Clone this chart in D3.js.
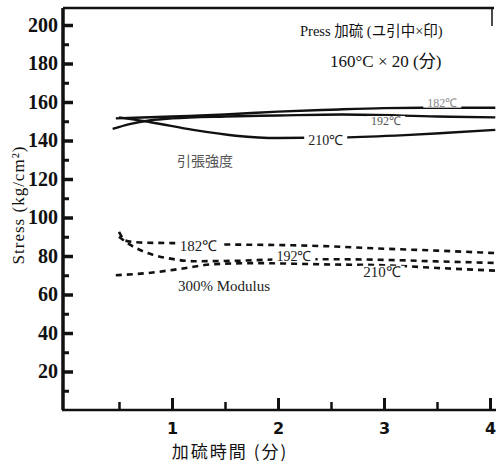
<!DOCTYPE html>
<html>
<head>
<meta charset="utf-8">
<script src="https://cdn.jsdelivr.net/npm/d3@7/dist/d3.min.js"></script>
<style>
  body { margin: 0; background: #fff; }
  svg { display: block; }
  .tick line { stroke: #111; }
  .domain { stroke: #111; }
</style>
</head>
<body>
<div id="chart"></div>
<script>
// Data (x = 加硫時間 in minutes, y = stress kg/cm2)
const tensile182 = [[0.47, 151.5], [1, 152.5], [1.5, 153.5], [2, 155], [2.5, 156], [3, 156.8], [3.5, 157], [4.05, 157]];
const tensile192 = [[0.44, 146], [0.6, 148.5], [0.8, 150.5], [1, 151.5], [1.5, 152.5], [2, 153], [2.6, 153.5], [3.5, 152.5], [4.05, 152]];
const tensile210 = [[0.5, 152], [0.8, 149.5], [1.2, 145.5], [1.6, 142.5], [2, 141.3], [2.6, 141.6], [3.2, 142.8], [3.6, 144], [4.05, 145.5]];

const modulus182 = [[0.5, 92.5], [0.56, 88], [0.7, 87], [1, 86.7], [1.5, 86], [2, 85.7], [2.5, 85], [3, 83.8], [3.5, 82.8], [4.05, 81.5]];
const modulus192 = [[0.5, 90], [0.6, 86], [0.8, 81], [1, 78.5], [1.2, 77.3], [1.6, 77.5], [2, 78.2], [2.5, 78.3], [3, 78], [3.5, 77.2], [4.05, 76.4]];
const modulus210 = [[0.47, 70], [0.8, 71.3], [1.1, 73.5], [1.4, 75.8], [1.8, 76.3], [2.5, 75.6], [3, 75.2], [3.5, 73.8], [4.05, 72.4]];

const yMajorTicks = [20, 40, 60, 80, 100, 120, 140, 160, 180, 200];
const yMinorTicks = [10, 30, 50, 70, 90, 110, 130, 150, 170, 190];
const xMajorTicks = [1, 2, 3, 4];
const xMinorTicks = [0.5, 1.5, 2.5, 3.5];

const curveLabels = [
  { text: "182℃", x: 3.55, y: 159, size: 12, color: "#888" },
  { text: "192℃", x: 3.02, y: 149.5, size: 12, color: "#555" },
  { text: "210℃", x: 2.45, y: 139.5, size: 14, color: "#222" },
  { text: "182℃", x: 1.25, y: 84.5, size: 15, color: "#222" },
  { text: "192℃", x: 2.15, y: 79, size: 14, color: "#222" },
  { text: "210℃", x: 2.98, y: 71, size: 15, color: "#222" }
];

const width = 496;
const height = 470;

const svg = d3.select("#chart")
  .append("svg")
  .attr("width", width)
  .attr("height", height);

const x = d3.scaleLinear().domain([0, 4]).range([66, 490]);
const y = d3.scaleLinear().domain([0, 200]).range([410, 25]);

// frame (top line + short right border like the scan)
svg.append("line")
  .attr("x1", 63).attr("x2", 494).attr("y1", 8).attr("y2", 8)
  .attr("stroke", "#111").attr("stroke-width", 2.5);
svg.append("line")
  .attr("x1", 492).attr("x2", 492).attr("y1", 8).attr("y2", 26)
  .attr("stroke", "#111").attr("stroke-width", 1.5);

// y axis
const yAxis = svg.append("g")
  .attr("transform", "translate(63,0)")
  .call(d3.axisLeft(y).tickValues(yMajorTicks).tickSizeInner(-10).tickSizeOuter(0).tickPadding(5));
yAxis.select(".domain").attr("stroke-width", 3.5).attr("d", "M0,8V410");
yAxis.selectAll(".tick line").attr("stroke-width", 3.5);
yAxis.selectAll("text")
  .style("font-family", "'Liberation Serif', serif")
  .style("font-weight", "bold")
  .style("font-size", "20px")
  .attr("fill", "#111");

svg.append("g")
  .attr("transform", "translate(63,0)")
  .call(d3.axisLeft(y).tickValues(yMinorTicks).tickSizeInner(-6).tickSizeOuter(0).tickFormat(""))
  .call(g => g.select(".domain").remove())
  .selectAll(".tick line").attr("stroke-width", 3);

// x axis
const xAxis = svg.append("g")
  .attr("transform", "translate(0,410)")
  .call(d3.axisBottom(x).tickValues(xMajorTicks).tickFormat(d3.format("d"))
    .tickSizeInner(-12).tickSizeOuter(0).tickPadding(13));
xAxis.select(".domain").attr("stroke-width", 2.5).attr("d", "M62,0H496");
xAxis.selectAll(".tick line").attr("stroke-width", 3);
xAxis.selectAll("text")
  .style("font-family", "'DejaVu Sans', sans-serif")
  .style("font-weight", "bold")
  .style("font-size", "16px")
  .attr("fill", "#111");

svg.append("g")
  .attr("transform", "translate(0,410)")
  .call(d3.axisBottom(x).tickValues(xMinorTicks).tickSizeInner(-8).tickSizeOuter(0).tickFormat(""))
  .call(g => g.select(".domain").remove())
  .selectAll(".tick line").attr("stroke-width", 2.5);

// curves
const line = d3.line()
  .x(d => x(d[0]))
  .y(d => y(d[1]))
  .curve(d3.curveMonotoneX);

[tensile182, tensile192, tensile210].forEach(s => {
  svg.append("path")
    .datum(s)
    .attr("fill", "none")
    .attr("stroke", "#111")
    .attr("stroke-width", 2.4)
    .attr("d", line);
});

[modulus182, modulus192, modulus210].forEach(s => {
  svg.append("path")
    .datum(s)
    .attr("fill", "none")
    .attr("stroke", "#111")
    .attr("stroke-width", 2.6)
    .attr("stroke-dasharray", "6,5")
    .attr("d", line);
});

// curve labels with white background behind, like gaps in the scan
curveLabels.forEach(d => {
  const t = svg.append("text")
    .attr("x", x(d.x))
    .attr("y", y(d.y))
    .attr("text-anchor", "middle")
    .attr("dominant-baseline", "middle")
    .style("font-family", "'Liberation Serif', serif")
    .style("font-size", d.size + "px")
    .attr("fill", d.color)
    .text(d.text);
  const bb = t.node().getBBox();
  svg.insert("rect", () => t.node())
    .attr("x", bb.x - 4).attr("y", bb.y + 2)
    .attr("width", bb.width + 8).attr("height", bb.height - 4)
    .attr("fill", "#fff");
});

// annotations
svg.append("text")
  .attr("x", 300).attr("y", 36)
  .style("font-family", "'Liberation Serif', 'Noto Sans CJK JP', serif")
  .style("font-size", "14.5px")
  .attr("fill", "#111")
  .text("Press 加硫 (ユ引中×印)");

svg.append("text")
  .attr("x", 330).attr("y", 67)
  .style("font-family", "'Liberation Serif', 'Noto Sans CJK JP', serif")
  .style("font-size", "17px")
  .attr("fill", "#111")
  .text("160°C × 20 (分)");

svg.append("text")
  .attr("x", 177).attr("y", 166)
  .style("font-family", "'Noto Sans CJK JP', sans-serif")
  .style("font-size", "14px")
  .attr("fill", "#555")
  .text("引張強度");

svg.append("text")
  .attr("x", 178).attr("y", 291)
  .style("font-family", "'Liberation Serif', serif")
  .style("font-size", "15px")
  .attr("fill", "#222")
  .text("300% Modulus");

// axis titles
svg.append("text")
  .attr("transform", "translate(24,205) rotate(-90)")
  .attr("text-anchor", "middle")
  .style("font-family", "'Liberation Serif', serif")
  .style("font-size", "17px")
  .style("letter-spacing", "1px")
  .attr("fill", "#111")
  .text("Stress (kg/cm²)");

svg.append("text")
  .attr("x", 230).attr("y", 458)
  .attr("text-anchor", "middle")
  .style("font-family", "'Noto Sans CJK JP', sans-serif")
  .style("font-size", "17px")
  .style("letter-spacing", "2px")
  .attr("fill", "#111")
  .text("加硫時間 (分)");
</script>
</body>
</html>
